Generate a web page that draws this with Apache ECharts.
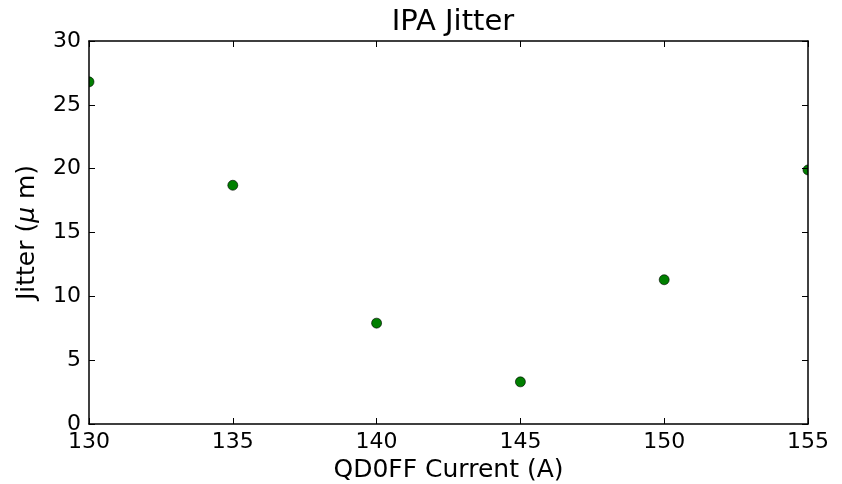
<!DOCTYPE html>
<html>
<head>
<meta charset="utf-8">
<script src="https://cdn.jsdelivr.net/npm/echarts@6/dist/echarts.min.js"></script>
<style>html,body{margin:0;padding:0;background:#fff;}#c{width:842px;height:484px;}</style>
</head>
<body>
<div id="c"></div>
<script>
var currents = [130, 135, 140, 145, 150, 155];
var jitter = [26.8, 18.7, 7.9, 3.3, 11.3, 19.9];
var xTicks = [130, 135, 140, 145, 150, 155];
var yTicks = [0, 5, 10, 15, 20, 25, 30];

var font = 'DejaVu Sans';
var chart = echarts.init(document.getElementById('c'), null, {renderer: 'canvas'});
var data = currents.map(function (c, i) { return [c, jitter[i]]; });

var axisCommon = {
  axisLine: {show: true, onZero: false, lineStyle: {color: '#000', width: 1.5}},
  axisTick: {show: true, inside: true, length: 6, lineStyle: {color: '#000', width: 1}},
  splitLine: {show: false}
};

chart.setOption({
  animation: false,
  backgroundColor: '#fff',
  title: {
    text: 'IPA Jitter', left: 448, top: 3, textAlign: 'center',
    textStyle: {fontFamily: font, fontSize: 29, fontWeight: 'normal', color: '#000'}
  },
  grid: {left: 89, right: 34, top: 41, bottom: 60, containLabel: false, outerBoundsMode: 'none'},
  xAxis: [
    Object.assign({
      type: 'value', min: xTicks[0], max: xTicks[xTicks.length - 1], interval: 5, position: 'bottom',
      name: 'QD0FF Current (A)', nameLocation: 'middle', nameGap: 27,
      nameTextStyle: {fontFamily: font, fontSize: 25, color: '#000'},
      axisLabel: {fontFamily: font, fontSize: 22, color: '#000', margin: 7}
    }, axisCommon),
    Object.assign({
      type: 'value', min: xTicks[0], max: xTicks[xTicks.length - 1], interval: 5, position: 'top',
      axisLabel: {show: false}
    }, axisCommon)
  ],
  yAxis: [
    Object.assign({
      type: 'value', min: yTicks[0], max: yTicks[yTicks.length - 1], interval: 5, position: 'left',
      name: '{a|Jitter (}{b|μ}{a| m)}', nameLocation: 'middle', nameGap: 49,
      nameTextStyle: {
        fontFamily: font, fontSize: 25, color: '#000',
        rich: {
          a: {fontFamily: font, fontSize: 25, color: '#000'},
          b: {fontFamily: font, fontSize: 25, color: '#000', fontStyle: 'italic'}
        }
      },
      axisLabel: {fontFamily: font, fontSize: 22, color: '#000', margin: 8}
    }, axisCommon),
    Object.assign({
      type: 'value', min: yTicks[0], max: yTicks[yTicks.length - 1], interval: 5, position: 'right',
      axisLabel: {show: false}
    }, axisCommon)
  ],
  series: [{
    type: 'custom',
    clip: true,
    z: -1,
    data: data,
    renderItem: function (params, api) {
      var p = api.coord([api.value(0), api.value(1)]);
      var cs = params.coordSys;
      return {
        type: 'group',
        clipPath: {type: 'rect', shape: {x: cs.x, y: cs.y, width: cs.width, height: cs.height}},
        children: [{
          type: 'circle',
          shape: {cx: p[0], cy: p[1], r: 5},
          style: {fill: '#007f00', stroke: '#000', lineWidth: 0.6}
        }]
      };
    }
  }]
});
</script>
</body>
</html>
